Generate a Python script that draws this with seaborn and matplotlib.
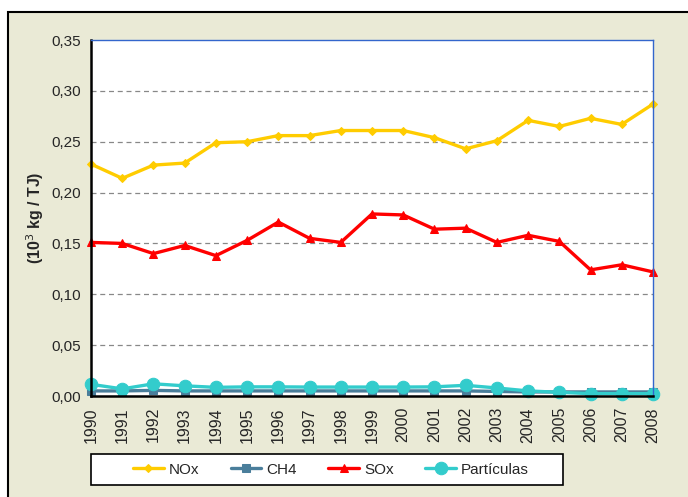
import pandas as pd
import numpy as np
import seaborn as sns
import matplotlib.pyplot as plt
from matplotlib.patches import Rectangle

## Data
years = list(range(1990, 2009))
nox = [0.228, 0.214, 0.227, 0.229, 0.249, 0.250, 0.256, 0.256, 0.261, 0.261,
       0.261, 0.254, 0.243, 0.251, 0.271, 0.265, 0.273, 0.267, 0.287]
ch4 = [0.005, 0.005, 0.0055, 0.005, 0.005, 0.005, 0.005, 0.005, 0.005, 0.005,
       0.005, 0.005, 0.005, 0.0045, 0.004, 0.004, 0.004, 0.004, 0.004]
sox = [0.151, 0.150, 0.140, 0.148, 0.138, 0.153, 0.171, 0.155, 0.151, 0.179,
       0.178, 0.164, 0.165, 0.151, 0.158, 0.152, 0.124, 0.129, 0.122]
part = [0.0115, 0.007, 0.012, 0.010, 0.0085, 0.009, 0.009, 0.0088, 0.0088, 0.0088,
        0.0088, 0.009, 0.0105, 0.0079, 0.005, 0.0036, 0.0023, 0.0023, 0.0023]
yticks = [0.0, 0.05, 0.10, 0.15, 0.20, 0.25, 0.30, 0.35]

sns.set_style("white")
plt.rcParams['font.family'] = ['Liberation Sans', 'DejaVu Sans']

bg = "#EAEAD6"
fig = plt.figure(figsize=(6.88, 4.97), dpi=100, facecolor="white")
fig.patches.append(Rectangle((8/688, -0.01), 1.0, 1 - 12/497 + 0.01, transform=fig.transFigure,
                             facecolor=bg, edgecolor="black", linewidth=1.5, zorder=-10))
# legend box
fig.patches.append(Rectangle((91/688, 1 - 485/497), 472/688, 31/497, transform=fig.transFigure,
                             facecolor="white", edgecolor="black", linewidth=1.2, zorder=-5))
ax = fig.add_axes([91/688, 1 - 396/497, 562/688, 356/497])

series = [("NOx", nox, "#FFCC00", "D", 4),
          ("CH4", ch4, "#4A7E9B", "s", 6),
          ("SOx", sox, "#FF0000", "^", 6),
          ("Partículas", part, "#33CCCC", "o", 9)]
for name, vals, col, mk, ms in series:
    sns.lineplot(x=years, y=vals, ax=ax, color=col, marker=mk, markersize=ms,
                 markeredgecolor=col, linewidth=2.4, label=name, clip_on=False)

ax.set_xlim(1990, 2008)
ax.set_ylim(0, 0.35)
ax.set_xticks(years)
ax.set_xticklabels([str(y) for y in years], rotation=90, fontsize=11.5)
ax.set_yticks(yticks)
ax.set_yticklabels([f"{v:.2f}".replace(".", ",") for v in yticks], fontsize=11)
ax.tick_params(axis="both", direction="out", length=4, width=1, color="black", pad=3)
ax.tick_params(axis="x", pad=4)
for v in yticks[1:-1]:
    ax.axhline(v, color="#888888", linestyle=(0, (4, 3)), linewidth=0.9, zorder=0)
ax.spines["left"].set_color("black")
ax.spines["left"].set_linewidth(1.8)
ax.spines["bottom"].set_color("black")
ax.spines["bottom"].set_linewidth(1.8)
ax.spines["right"].set_color("#3366CC")
ax.spines["top"].set_color("#3366CC")
ax.spines["right"].set_linewidth(1.0)
ax.spines["top"].set_linewidth(1.0)
ax.set_ylabel(r"(10$^3$ kg / TJ)", fontsize=11.5, fontweight="bold", labelpad=4)
ax.set_xlabel("")

handles, labels = ax.get_legend_handles_labels()
ax.get_legend().remove()
leg = fig.legend(handles, labels, loc="center", ncol=4,
                 bbox_to_anchor=(331/688, 1 - 469.5/497),
                 frameon=False, fontsize=11, handlelength=2.0,
                 handletextpad=0.35, columnspacing=2.05, borderaxespad=0)

fig.savefig("out.png", dpi=100, facecolor=fig.get_facecolor())
